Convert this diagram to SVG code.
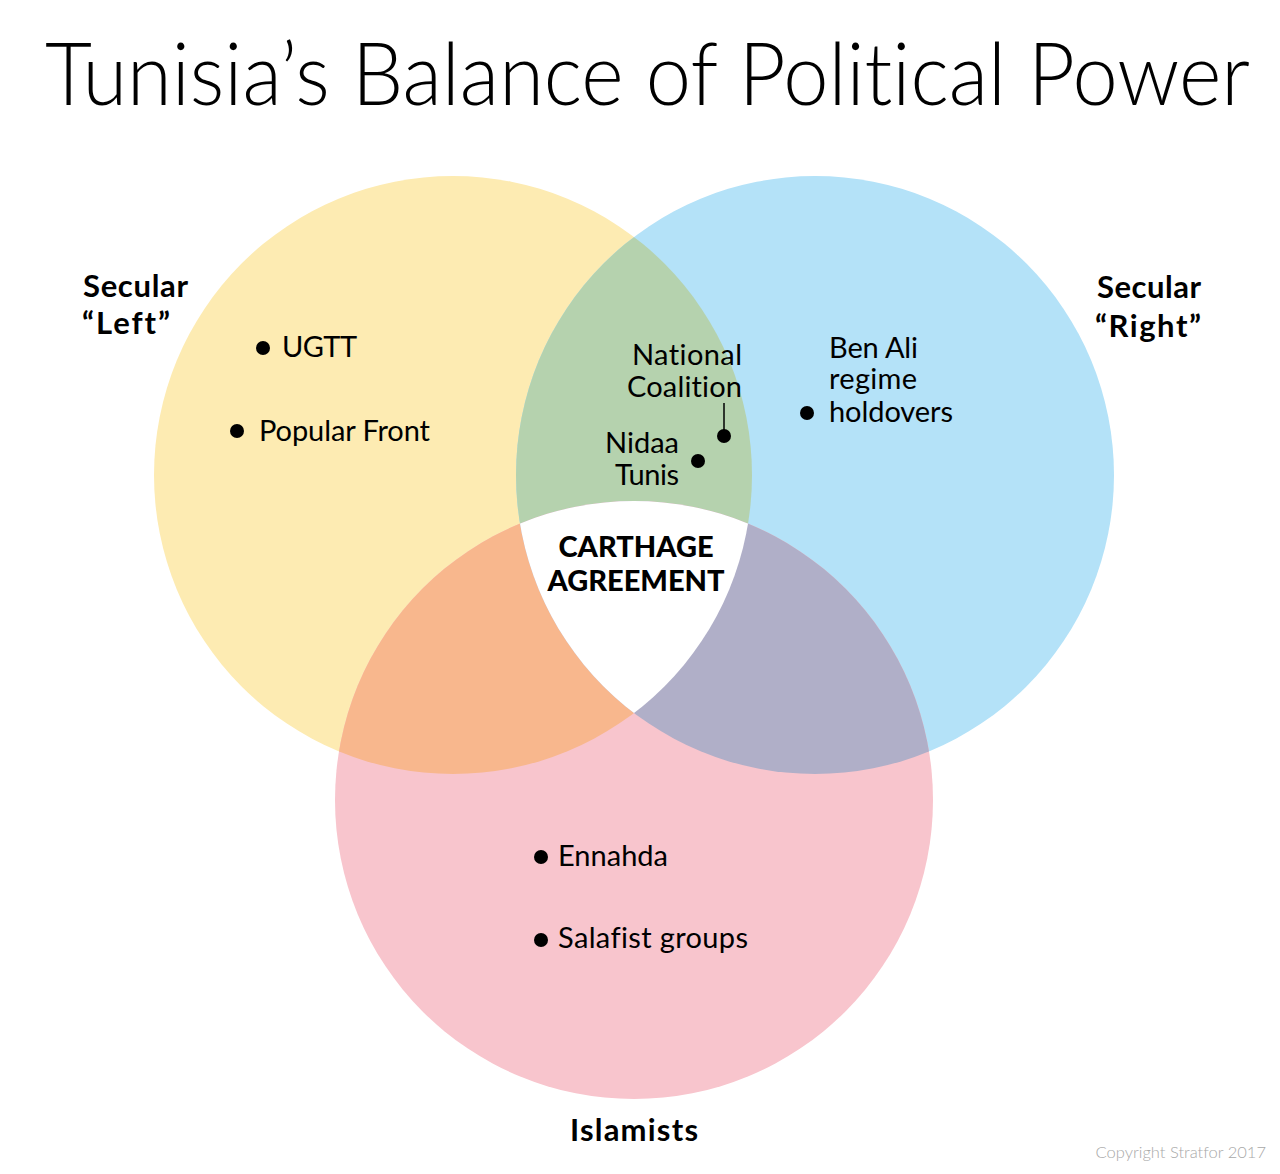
<svg xmlns="http://www.w3.org/2000/svg" width="1280" height="1174" viewBox="0 0 1280 1174">
<defs>
<style>
text{font-variant-ligatures:none}
.title{font-family:Lato,"Open Sans",sans-serif;font-weight:300;font-size:86px;fill:#000}
.hd{font-family:Lato,"Open Sans",sans-serif;font-weight:700;font-size:31px;fill:#000}
.tx{font-family:Lato,"Open Sans",sans-serif;font-weight:400;font-size:29px;fill:#000}
.ctr{font-family:Lato,"Open Sans",sans-serif;font-weight:900;font-size:29px;fill:#000}
.cp{font-family:Lato,"Open Sans",sans-serif;font-weight:300;font-size:16.5px;fill:#a8a8a8}
.dot{fill:#000}
</style>
<clipPath id="clipL"><circle cx="453" cy="475" r="299"/></clipPath>
<clipPath id="clipR"><circle cx="815" cy="475" r="299"/></clipPath>
</defs>
<rect width="1280" height="1174" fill="#fff"/>
<text class="title" x="45" y="105" textLength="1205" lengthAdjust="spacingAndGlyphs">Tunisia’s Balance of Political Power</text>

<g id="venn">
<circle cx="453" cy="475" r="299" fill="#FDEBB2"/>
<circle cx="815" cy="475" r="299" fill="#B4E2F8"/>
<circle cx="634" cy="800" r="299" fill="#F8C5CD"/>
<circle cx="815" cy="475" r="299" fill="#B5D2AE" clip-path="url(#clipL)"/>
<circle cx="634" cy="800" r="299" fill="#F8B78D" clip-path="url(#clipL)"/>
<circle cx="634" cy="800" r="299" fill="#B0AFC8" clip-path="url(#clipR)"/>
<g clip-path="url(#clipR)"><circle cx="634" cy="800" r="299" fill="#fff" clip-path="url(#clipL)"/></g>
</g>

<g id="connectors">
<line x1="724" y1="403" x2="724" y2="434" stroke="#000" stroke-width="1.5"/>
</g>

<g id="secular-left">
<text class="hd" x="83" y="297" textLength="105">Secular</text>
<text class="hd" x="82" y="334" textLength="88">“Left”</text>
</g>
<g id="secular-right">
<text class="hd" x="1097" y="298" textLength="104">Secular</text>
<text class="hd" x="1095" y="337" textLength="106">“Right”</text>
</g>
<g id="islamists">
<text class="hd" x="570" y="1141" textLength="128">Islamists</text>
</g>
<g id="ugtt">
<circle class="dot" cx="263" cy="348" r="7"/>
<text class="tx" x="282" y="357" textLength="75">UGTT</text>
</g>
<g id="popular-front">
<circle class="dot" cx="237" cy="431" r="7"/>
<text class="tx" x="259" y="441" textLength="171">Popular Front</text>
</g>
<g id="national-coalition">
<circle class="dot" cx="724" cy="436" r="7"/>
<text class="tx" x="632" y="365" textLength="110">National</text>
<text class="tx" x="627" y="397" textLength="115">Coalition</text>
</g>
<g id="nidaa-tunis">
<circle class="dot" cx="698" cy="461" r="7"/>
<text class="tx" x="605" y="453" textLength="74">Nidaa</text>
<text class="tx" x="615" y="485" textLength="64">Tunis</text>
</g>
<g id="ben-ali">
<circle class="dot" cx="807" cy="413" r="7"/>
<text class="tx" x="829" y="358" textLength="89">Ben Ali</text>
<text class="tx" x="829" y="389" textLength="88">regime</text>
<text class="tx" x="829" y="422" textLength="124">holdovers</text>
</g>
<g id="carthage">
<text class="ctr" x="636" y="557" text-anchor="middle">CARTHAGE</text>
<text class="ctr" x="636" y="591" text-anchor="middle">AGREEMENT</text>
</g>
<g id="ennahda">
<circle class="dot" cx="541" cy="857" r="7"/>
<text class="tx" x="558" y="866" textLength="110">Ennahda</text>
</g>
<g id="salafist">
<circle class="dot" cx="541" cy="940" r="7"/>
<text class="tx" x="558" y="948" textLength="190">Salafist groups</text>
</g>
<text class="cp" x="1266" y="1158" text-anchor="end">Copyright Stratfor 2017</text>
</svg>
